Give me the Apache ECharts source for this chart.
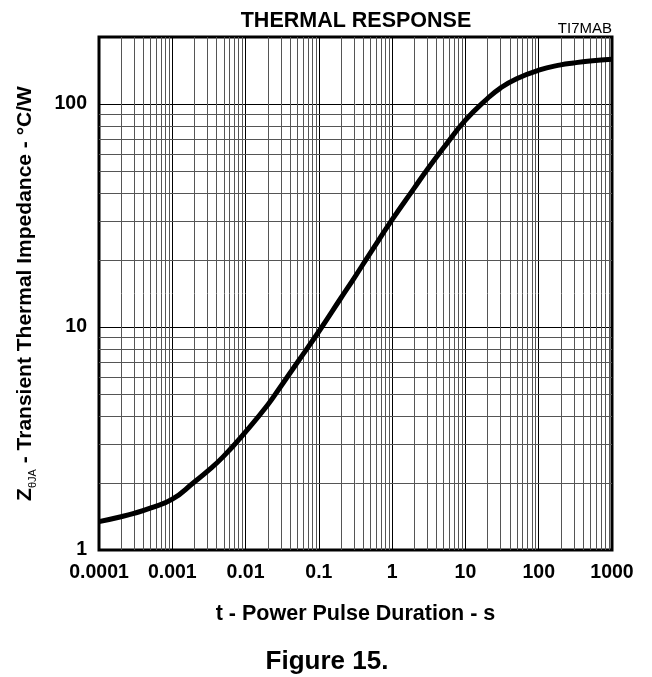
<!DOCTYPE html>
<html>
<head>
<meta charset="utf-8">
<title>Thermal Response</title>
<script src="https://cdn.jsdelivr.net/npm/echarts@6/dist/echarts.min.js"></script>
<style>
  html, body { margin: 0; padding: 0; background: #fff; }
  #chart { width: 652px; height: 677px; }
</style>
</head>
<body>
<div id="chart"></div>
<script>
// pulse duration (s) and transient thermal impedance (°C/W)
const pulseTime = [0.0001, 0.0002, 0.0003, 0.0005, 0.001, 0.002, 0.003, 0.005,
  0.01, 0.02, 0.03, 0.05, 0.1, 0.2, 0.3, 0.5, 1, 2, 3, 5, 10, 20, 30, 50,
  100, 200, 300, 500, 1000];
const impedance = [1.34, 1.41, 1.46, 1.54, 1.69, 2.02, 2.25, 2.63,
  3.39, 4.47, 5.4, 6.88, 9.55, 13.5, 16.5, 21.4, 30.3, 42, 50.8, 63.5, 84.7, 106, 118, 130,
  142, 150, 153, 156, 159];

const xTickLabels = ['0.0001', '0.001', '0.01', '0.1', '1', '10', '100', '1000'];
const yTickLabels = ['1', '10', '100'];
// minor grid multipliers inside each decade
const minorSteps = [2, 3, 4, 5, 6, 7, 8, 9];
const xDecades = [0.0001, 0.001, 0.01, 0.1, 1, 10, 100];
const yDecades = [1, 10];

const xMin = 0.0001, xMax = 1000;
const yMin = 1, yMax = 200;

const font = '"Liberation Sans", Arial, Helvetica, sans-serif';

let curve = [];
for (let i = 0; i < pulseTime.length; i++) {
  curve.push([pulseTime[i], impedance[i]]);
}

// [x, y, kind] : kind 0 = vertical line at x, 1 = horizontal line at y
let gridLines = [];
xDecades.forEach(function (d) {
  minorSteps.forEach(function (m) { gridLines.push([d * m, yMin, 0]); });
});
yDecades.forEach(function (d) {
  minorSteps.forEach(function (m) { gridLines.push([xMin, d * m, 1]); });
});

const chart = echarts.init(document.getElementById('chart'), null, { renderer: 'canvas' });

function renderGridLine(params, api) {
  let p1, p2;
  if (api.value(2) === 0) {
    p1 = api.coord([api.value(0), yMin]);
    p2 = api.coord([api.value(0), yMax]);
    let x = Math.round(p1[0]) + 0.5;
    p1[0] = x; p2[0] = x;
  } else {
    p1 = api.coord([xMin, api.value(1)]);
    p2 = api.coord([xMax, api.value(1)]);
    let y = Math.round(p1[1]) + 0.5;
    p1[1] = y; p2[1] = y;
  }
  return {
    type: 'line',
    silent: true,
    shape: { x1: p1[0], y1: p1[1], x2: p2[0], y2: p2[1] },
    style: { stroke: '#555', lineWidth: 1 }
  };
}

let option = {
  animation: false,
  backgroundColor: '#fff',
  textStyle: { fontFamily: font },
  title: [
    {
      text: 'THERMAL RESPONSE',
      left: 351, top: 5, textAlign: 'center',
      textStyle: { fontFamily: font, fontSize: 21.5, fontWeight: 'bold', color: '#000' }
    },
    {
      text: 'TI7MAB',
      left: 607, top: 16, textAlign: 'right',
      textStyle: { fontFamily: font, fontSize: 15, fontWeight: 'normal', color: '#000' }
    },
    {
      text: 'Figure 15.',
      left: 322, top: 644, textAlign: 'center',
      textStyle: { fontFamily: font, fontSize: 26, fontWeight: 'bold', color: '#000' }
    }
  ],
  grid: {
    left: 99, right: 40, top: 37, bottom: 127,
    show: true, borderColor: '#000', borderWidth: 3,
    containLabel: false
  },
  xAxis: {
    type: 'log', logBase: 10, min: xMin, max: xMax, interval: 1,
    name: 't - Power Pulse Duration - s',
    nameLocation: 'middle', nameGap: 53,
    nameTextStyle: { fontFamily: font, fontSize: 21.5, fontWeight: 'bold', color: '#000' },
    axisLine: { show: false },
    axisTick: { show: false },
    axisLabel: {
      margin: 13, fontFamily: font, fontSize: 19.5, fontWeight: 'bold', color: '#000',
      formatter: function (v) { return xTickLabels[Math.round(Math.log10(v)) + 4]; }
    },
    splitLine: { show: true, lineStyle: { color: '#000', width: 1 } }
  },
  yAxis: {
    type: 'log', logBase: 10, min: yMin, max: yMax, interval: 1,
    name: '{z|Z}{s|θJA}{n| - Transient Thermal Impedance - °C/W}',
    nameLocation: 'middle', nameGap: 61, nameRotate: 90,
    nameTextStyle: {
      color: '#000',
      rich: {
        z: { fontFamily: font, fontSize: 21, fontWeight: 'bold', color: '#000', lineHeight: 26 },
        s: { fontFamily: font, fontSize: 11, color: '#000', verticalAlign: 'bottom', lineHeight: 18 },
        n: { fontFamily: font, fontSize: 21, fontWeight: 'bold', color: '#000', lineHeight: 26 }
      }
    },
    axisLine: { show: false },
    axisTick: { show: false },
    axisLabel: {
      margin: 12, fontFamily: font, fontSize: 19.5, fontWeight: 'bold', color: '#000',
      showMaxLabel: false,
      formatter: function (v) {
        let k = Math.round(Math.log10(v));
        return yTickLabels[k] || '';
      }
    },
    splitLine: { show: true, lineStyle: { color: '#000', width: 1 } }
  },
  series: [
    {
      // minor log grid
      type: 'custom',
      data: gridLines,
      z: 1,
      silent: true,
      encode: { x: 0, y: 1 },
      renderItem: renderGridLine
    },
    {
      name: 'ZθJA',
      type: 'line',
      data: curve,
      z: 5,
      smooth: 0.5,
      showSymbol: false,
      lineStyle: { color: '#000', width: 5 },
      emphasis: { disabled: true }
    }
  ]
};

chart.setOption(option);
</script>
</body>
</html>
